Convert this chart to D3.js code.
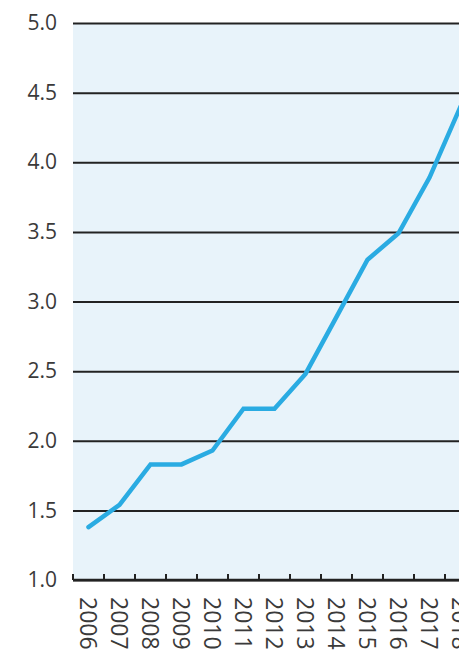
<!DOCTYPE html>
<html>
<head>
<meta charset="utf-8">
<script src="https://cdn.jsdelivr.net/npm/d3@7"></script>
<style>
  html, body { margin: 0; padding: 0; background: #ffffff; overflow: hidden; }
  svg { display: block; }
</style>
</head>
<body>
<script>
// Annual series, 2006–2018
const years = ["2006","2007","2008","2009","2010","2011","2012","2013","2014","2015","2016","2017","2018"];
const values = [1.38, 1.54, 1.83, 1.83, 1.93, 2.23, 2.23, 2.48, 2.89, 3.30, 3.49, 3.89, 4.40];
const yTicks = [1.0, 1.5, 2.0, 2.5, 3.0, 3.5, 4.0, 4.5, 5.0];

const W = 459, H = 650;
const plotLeft = 73, plotRight = 476, plotTop = 23, plotBottom = 580;

const svg = d3.select("body").append("svg")
  .attr("width", W).attr("height", H);

const x = d3.scaleBand().domain(years).range([plotLeft, plotRight]);
const y = d3.scaleLinear().domain([1, 5]).range([plotBottom, plotTop]);

// plot background
svg.append("rect")
  .attr("x", plotLeft).attr("y", y(5))
  .attr("width", plotRight - plotLeft).attr("height", y(1) - y(5))
  .attr("fill", "#e8f3fa");

// horizontal gridlines with y labels
const yAxis = svg.append("g")
  .attr("transform", `translate(${plotLeft},0)`)
  .call(d3.axisLeft(y).tickValues(yTicks).tickFormat(d3.format(".1f"))
    .tickSize(-(plotRight - plotLeft)).tickPadding(16));
yAxis.select(".domain").remove();
yAxis.selectAll(".tick line")
  .attr("stroke", "#222").attr("stroke-width", 2);
yAxis.selectAll(".tick text")
  .attr("fill", "#3a3a3a")
  .style("font-family", "'Open Sans', sans-serif")
  .style("font-size", "21px");

// bottom axis with inward ticks at band boundaries
const xAxisG = svg.append("g");
xAxisG.append("line")
  .attr("x1", plotLeft).attr("x2", plotRight)
  .attr("y1", plotBottom).attr("y2", plotBottom)
  .attr("stroke", "#222").attr("stroke-width", 2.5);
const bounds = years.map(d => x(d)).concat([x(years[years.length - 1]) + x.bandwidth()]);
xAxisG.selectAll("line.tk").data(bounds).join("line")
  .attr("class", "tk")
  .attr("x1", d => d).attr("x2", d => d)
  .attr("y1", plotBottom).attr("y2", plotBottom - 6)
  .attr("stroke", "#222").attr("stroke-width", 2);

// rotated year labels
svg.append("g").selectAll("text").data(years).join("text")
  .attr("transform", d => `translate(${x(d) + x.bandwidth() / 2},597) rotate(90)`)
  .attr("text-anchor", "start")
  .attr("dominant-baseline", "central")
  .attr("fill", "#3a3a3a")
  .style("font-family", "'Open Sans', sans-serif")
  .style("font-size", "23px")
  .text(d => d);

// data line
const line = d3.line()
  .x((d, i) => x(years[i]) + x.bandwidth() / 2)
  .y(d => y(d));
svg.append("path")
  .datum(values)
  .attr("d", line)
  .attr("fill", "none")
  .attr("stroke", "#2aabe2")
  .attr("stroke-width", 4.5)
  .attr("stroke-linejoin", "miter")
  .attr("stroke-linecap", "round");
</script>
</body>
</html>
